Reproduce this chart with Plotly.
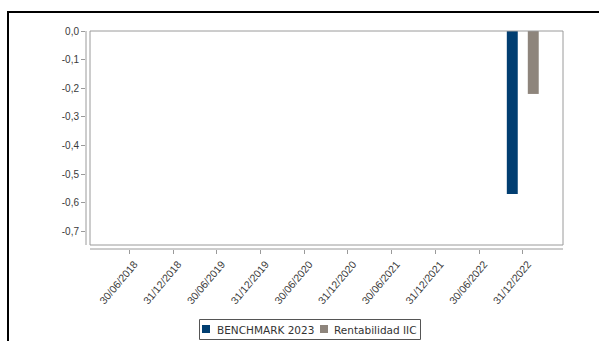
import plotly.graph_objects as go

# Semiannual reporting dates (category axis)
fechas = ["30/06/2018", "31/12/2018", "30/06/2019", "31/12/2019", "30/06/2020",
          "31/12/2020", "30/06/2021", "31/12/2021", "30/06/2022", "31/12/2022"]

# Returns per period (only the last period has data)
benchmark_2023 = [None, None, None, None, None, None, None, None, None, -0.57]
rentabilidad_iic = [None, None, None, None, None, None, None, None, None, -0.22]

series_names = ["BENCHMARK 2023", "Rentabilidad IIC"]
series_colors = ["#013e71", "#8e857c"]

y_tick_vals = [0.0, -0.1, -0.2, -0.3, -0.4, -0.5, -0.6, -0.7]
y_tick_text = ["0,0", "-0,1", "-0,2", "-0,3", "-0,4", "-0,5", "-0,6", "-0,7"]

W, H = 599, 341
L, R, T, B = 86, 563, 31, 249  # plot-area pixel bounds


def px_x(px):
    return (px - L) / (R - L)


def px_y(py):
    return (B - py) / (B - T)


fig = go.Figure()
fig.add_trace(go.Bar(x=fechas, y=benchmark_2023, name=series_names[0],
                     marker=dict(color=series_colors[0], line=dict(width=0)),
                     width=0.25, offset=-0.365, showlegend=False))
fig.add_trace(go.Bar(x=fechas, y=rentabilidad_iic, name=series_names[1],
                     marker=dict(color=series_colors[1], line=dict(width=0)),
                     width=0.25, offset=0.115, showlegend=False))

axis_grey = "#9a9a9a"
y_tick_font = dict(family="Liberation Sans, Arial, sans-serif", size=10, color="#3a3a3a")
x_tick_font = dict(family="Liberation Sans, Arial, sans-serif", size=10.5, color="#3a3a3a")

shapes = [
    # outer frame
    dict(type="rect", xref="paper", yref="paper",
         x0=px_x(8), x1=px_x(640), y0=px_y(380), y1=px_y(12),
         line=dict(color="black", width=2), fillcolor="rgba(0,0,0,0)"),
    # plot box
    dict(type="rect", xref="paper", yref="paper",
         x0=px_x(90), x1=px_x(563), y0=px_y(245), y1=px_y(31),
         line=dict(color=axis_grey, width=1), fillcolor="rgba(0,0,0,0)"),
    # offset y axis line
    dict(type="line", xref="paper", yref="paper",
         x0=0, x1=0, y0=px_y(245), y1=1,
         line=dict(color=axis_grey, width=1)),
    # offset x axis line
    dict(type="line", xref="paper", yref="paper",
         x0=px_x(90), x1=1, y0=0, y1=0,
         line=dict(color=axis_grey, width=1)),
    # legend box
    dict(type="rect", xref="paper", yref="paper",
         x0=px_x(199.5), x1=px_x(420.5), y0=px_y(339.5), y1=px_y(319.5),
         line=dict(color="#555555", width=1), fillcolor="white"),
]

legend_font = dict(family="DejaVu Sans, sans-serif", size=10.5, color="#333333")
annotations = []
legend_items = [(series_names[0], series_colors[0], 202, 215),
                (series_names[1], series_colors[1], 320, 332)]
for name, color, sx, tx in legend_items:
    shapes.append(dict(type="rect", xref="paper", yref="paper",
                       x0=px_x(sx), x1=px_x(sx + 8), y0=px_y(333), y1=px_y(325),
                       line=dict(width=0), fillcolor=color))
    annotations.append(dict(text=name, xref="paper", yref="paper",
                            x=px_x(tx), y=px_y(329.5), xanchor="left", yanchor="middle",
                            showarrow=False, font=legend_font))

fig.update_layout(
    width=W, height=H, autosize=False,
    margin=dict(l=L, r=W - R, t=T, b=H - B, pad=0),
    paper_bgcolor="white", plot_bgcolor="white",
    barmode="overlay",
    showlegend=False,
    shapes=shapes,
    annotations=annotations,
    xaxis=dict(type="category", range=[-0.99, 9.92], showgrid=False, zeroline=False,
               showline=False, ticks="outside", ticklen=4, tickcolor=axis_grey,
               tickangle=-50, ticklabelshift=5, tickfont=x_tick_font, fixedrange=True),
    yaxis=dict(range=[-0.762, 0], showgrid=False, zeroline=False, showline=False,
               ticks="outside", ticklen=4, tickcolor=axis_grey,
               tickvals=y_tick_vals, ticktext=y_tick_text, tickfont=y_tick_font,
               fixedrange=True),
)

fig.write_html("out.html")
